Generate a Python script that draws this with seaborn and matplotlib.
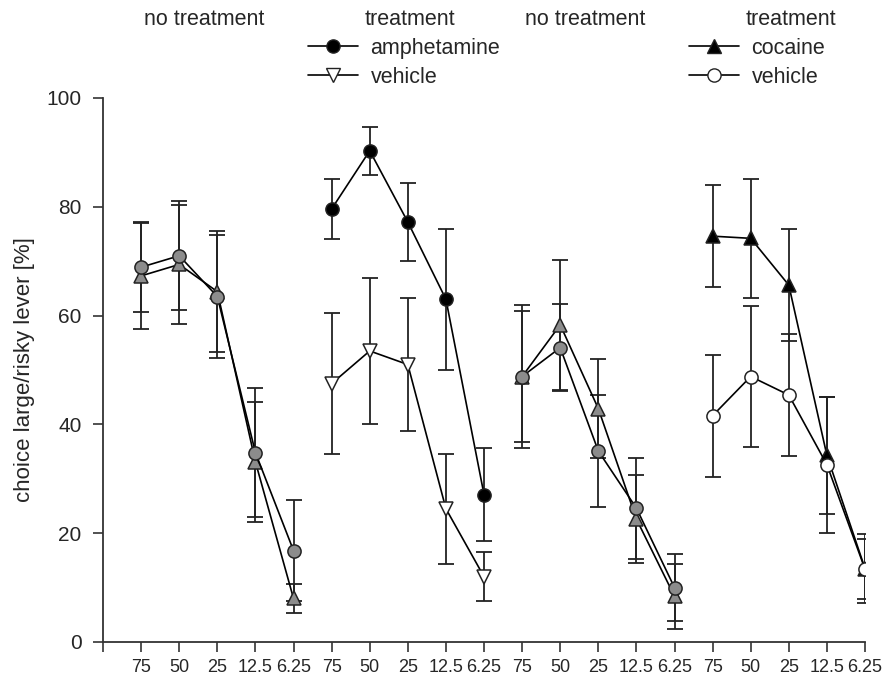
import matplotlib
matplotlib.use('Agg')
import matplotlib.pyplot as plt
import seaborn as sns
import numpy as np
from matplotlib.lines import Line2D

# probability labels (x axis), repeated for the four blocks
prob_labels = ["75", "50", "25", "12.5", "6.25"]

# block 1: no treatment (amphetamine group), gray circles / gray triangles
nt1_circ = [68.9, 71.0, 63.5, 34.8, 16.8]
nt1_circ_err = [8.3, 10.0, 11.3, 11.8, 9.3]
nt1_tri = [67.3, 69.4, 64.4, 33.1, 8.0]
nt1_tri_err = [9.8, 11.0, 11.1, 11.1, 2.7]

# block 2: treatment, amphetamine vs vehicle
amph = [79.6, 90.3, 77.2, 63.0, 27.1]
amph_err = [5.5, 4.4, 7.1, 13.0, 8.6]
veh1 = [47.5, 53.5, 51.0, 24.5, 12.0]
veh1_err = [12.9, 13.4, 12.2, 10.1, 4.5]

# block 3: no treatment (cocaine group)
nt2_circ = [48.8, 54.1, 35.1, 24.6, 10.0]
nt2_circ_err = [12.0, 8.0, 10.3, 9.3, 6.2]
nt2_tri = [48.8, 58.3, 42.9, 22.6, 8.4]
nt2_tri_err = [13.2, 12.0, 9.1, 8.1, 6.0]

# block 4: treatment, cocaine vs vehicle
coc = [74.6, 74.2, 65.6, 34.3, 13.5]
coc_err = [9.4, 10.9, 10.3, 10.7, 6.3]
veh2 = [41.6, 48.8, 45.4, 32.6, 13.4]
veh2_err = [11.2, 13.0, 11.3, 12.5, 5.5]

sns.set_style("ticks")
plt.rcParams['font.family'] = ['Liberation Sans', 'DejaVu Sans']
FS = 15.5

fig = plt.figure(figsize=(8.86, 6.8), dpi=100)
ax = fig.add_axes([0.1163, 0.0559, 0.86, 0.80])

GRAY = "#8c8c8c"
MS = 9.5
ebar_kw = dict(ecolor="#222222", elinewidth=1.3, capsize=6, capthick=1.3, zorder=1)


def draw(block, vals, errs, marker, face, z):
    xs = np.arange(1, 6) + 5 * block
    ax.errorbar(xs, vals, yerr=errs, fmt="none", **ebar_kw)
    ax.plot(xs, vals, color="black", lw=1.2, marker=marker, markersize=MS,
            markerfacecolor=face, markeredgecolor="#222222", markeredgewidth=1.1,
            zorder=z)


draw(0, nt1_tri, nt1_tri_err, "^", GRAY, 3)
draw(0, nt1_circ, nt1_circ_err, "o", GRAY, 4)
draw(1, veh1, veh1_err, "v", "white", 3)
draw(1, amph, amph_err, "o", "black", 4)
draw(2, nt2_tri, nt2_tri_err, "^", GRAY, 3)
draw(2, nt2_circ, nt2_circ_err, "o", GRAY, 4)
draw(3, coc, coc_err, "^", "black", 3)
draw(3, veh2, veh2_err, "o", "white", 4)

ax.set_xlim(0, 20)
ax.set_ylim(0, 100)
ax.set_xticks(np.arange(0, 21))
ax.set_xticklabels([""] + prob_labels * 4)
ax.set_yticks(np.arange(0, 101, 20))
ax.tick_params(axis="both", direction="out", length=7.5, width=1.2, color="#333333",
               pad=8)
ax.tick_params(axis="y", labelsize=15)
ax.tick_params(axis="x", pad=5, labelsize=13)
for s in ["left", "bottom"]:
    ax.spines[s].set_linewidth(1.3)
    ax.spines[s].set_color("#333333")
sns.despine(ax=ax)
ax.set_ylabel("choice large/risky lever [%]", fontsize=16, labelpad=8)

# block headers
for xc, txt in [(204, "no treatment"), (410, "treatment"), (585, "no treatment"), (791, "treatment")]:
    fig.text(xc / 886, 1 - 25 / 680, txt, ha="center", va="baseline", fontsize=FS)

# legends
h_amph = Line2D([], [], color="black", lw=1.2, marker="o", markersize=MS,
                markerfacecolor="black", markeredgecolor="#222222")
h_veh1 = Line2D([], [], color="black", lw=1.2, marker="v", markersize=MS,
                markerfacecolor="white", markeredgecolor="#222222")
h_coc = Line2D([], [], color="black", lw=1.2, marker="^", markersize=MS,
               markerfacecolor="black", markeredgecolor="#222222")
h_veh2 = Line2D([], [], color="black", lw=1.2, marker="o", markersize=MS,
                markerfacecolor="white", markeredgecolor="#222222")

leg_kw = dict(frameon=False, loc="upper left", fontsize=FS, handlelength=2.3,
              handletextpad=0.6, labelspacing=0.35, borderpad=0, borderaxespad=0)
fig.legend([h_amph, h_veh1], ["amphetamine", "vehicle"],
           bbox_to_anchor=(308 / 886, 1 - 38 / 680), **leg_kw)
fig.legend([h_coc, h_veh2], ["cocaine", "vehicle"],
           bbox_to_anchor=(689 / 886, 1 - 38 / 680), **leg_kw)

fig.savefig("out.png", dpi=100)
